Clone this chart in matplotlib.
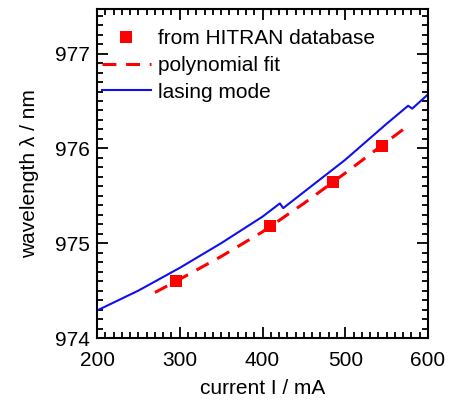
import matplotlib
matplotlib.use("Agg")
import matplotlib.pyplot as plt
from matplotlib.ticker import MultipleLocator

plt.rcParams['font.family'] = ['Liberation Sans', 'DejaVu Sans']
plt.rcParams['lines.scale_dashes'] = False

# HITRAN points
hitran_I = [296, 409, 485, 544]
hitran_wl = [974.60, 975.18, 975.65, 976.03]

# polynomial fit
fit_I = [270, 300, 350, 400, 450, 500, 550, 570]
fit_wl = [974.48, 974.62, 974.86, 975.12, 975.42, 975.74, 976.07, 976.20]

# lasing mode
las_I = [200, 250, 300, 350, 400, 421, 425, 450, 500, 550, 576, 581, 600]
las_wl = [974.29, 974.50, 974.74, 975.00, 975.28, 975.42, 975.37, 975.54,
          975.88, 976.26, 976.45, 976.42, 976.57]

FS = 15

fig = plt.figure(figsize=(4.54, 4.12), dpi=100)
ax = fig.add_axes([0.2137, 0.1796, 0.729, 0.7984])

ax.plot(hitran_I, hitran_wl, 's', color='#ff0000', markersize=8.5, markeredgewidth=0,
        label='from HITRAN database')
ax.plot(fit_I, fit_wl, color='#ff0000', lw=2.2, linestyle=(0, (10, 7)), label='polynomial fit')
ax.plot(las_I, las_wl, color='#1010ee', lw=1.5, label='lasing mode')

ax.set_xlim(200, 600)
ax.set_ylim(974, 977.47)
ax.xaxis.set_major_locator(MultipleLocator(100))
ax.xaxis.set_minor_locator(MultipleLocator(10))
ax.yaxis.set_major_locator(MultipleLocator(1))
ax.yaxis.set_minor_locator(MultipleLocator(0.1))
ax.tick_params(which='both', direction='in', top=True, right=True, labelsize=FS, width=1.3)
ax.tick_params(which='major', length=8)
ax.tick_params(axis='x', which='major', pad=9)
ax.tick_params(axis='y', which='major', pad=5)
ax.tick_params(which='minor', length=4.5)
for s in ax.spines.values():
    s.set_linewidth(1.5)

ax.set_xlabel('current I / mA', fontsize=FS, labelpad=7)
ax.set_ylabel('wavelength λ / nm', fontsize=FS, labelpad=12)

ax.legend(loc='upper left', frameon=False, fontsize=FS, handlelength=2.35, handletextpad=0.35,
          labelspacing=0.37, borderaxespad=0.0, borderpad=0.0,
          bbox_to_anchor=(0.015, 0.939))

fig.savefig('out.png', dpi=100)
